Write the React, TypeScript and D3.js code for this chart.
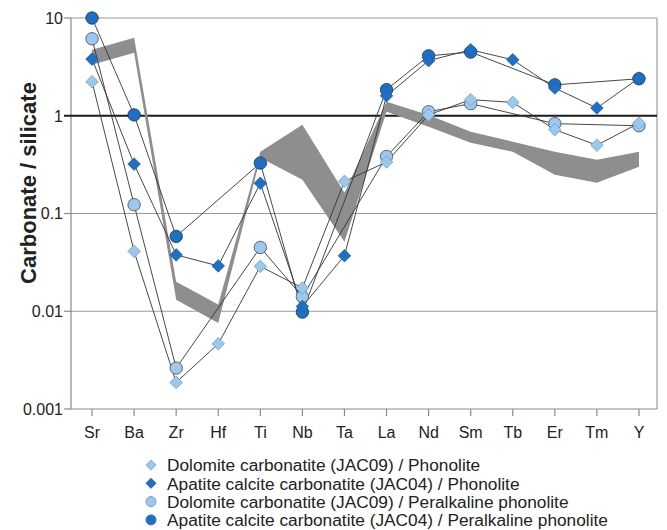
import React from 'react';
import * as d3 from 'd3';

// element order along the x axis
const elements = ['Sr', 'Ba', 'Zr', 'Hf', 'Ti', 'Nb', 'Ta', 'La', 'Nd', 'Sm', 'Tb', 'Er', 'Tm', 'Y'];

// carbonate / silicate ratios (null = not measured)
const dolPhon = [2.23, 0.041, 0.00187, 0.00465, 0.0288, 0.0173, 0.213, 0.336, 1.02, 1.46, 1.37, 0.72, 0.5, 0.84];
const apPhon = [3.8, 0.32, 0.0377, 0.0291, 0.204, 0.0112, 0.037, 1.6, 3.66, 4.73, 3.74, 1.92, 1.2, 2.43];
const dolPer = [6.13, 0.123, 0.00262, null, 0.0449, 0.0141, null, 0.383, 1.1, 1.33, null, 0.83, null, 0.79];
const apPer = [10, 1.02, 0.0583, null, 0.328, 0.0098, null, 1.85, 4.1, 4.48, null, 2.07, null, 2.39];

// grey field (upper / lower envelope)
const bandUpper = [4.73, 6.28, 0.02, 0.0117, 0.428, 0.81, 0.163, 1.39, 1.02, 0.686, 0.542, 0.428, 0.355, 0.428];
const bandLower = [3.32, 4.41, 0.0131, 0.0076, 0.372, 0.221, 0.0514, 1.1, 0.772, 0.529, 0.428, 0.249, 0.206, 0.301];

const yTicks = [10, 1, 0.1, 0.01, 0.001];
const yTickLabels = ['10', '1', '0.1', '0.01', '0.001'];

const legendLabels = [
    'Dolomite carbonatite (JAC09) / Phonolite',
    'Apatite calcite carbonatite (JAC04) / Phonolite',
    'Dolomite carbonatite (JAC09) / Peralkaline phonolite',
    'Apatite calcite carbonatite (JAC04) / Peralkaline phonolite',
];

const LIGHT = '#9dc8ee';
const DARK = '#1f70c4';
const font = '"Liberation Sans", Arial, sans-serif';

type Series = { values: (number | null)[]; fill: string; shape: 'diamond' | 'circle'; stroke: string };

const series: Series[] = [
    {values: dolPer, fill: LIGHT, shape: 'circle', stroke: '#4d5a68'},
    {values: apPer, fill: DARK, shape: 'circle', stroke: '#1d3d66'},
    {values: dolPhon, fill: LIGHT, shape: 'diamond', stroke: '#6f96bf'},
    {values: apPhon, fill: DARK, shape: 'diamond', stroke: '#1a5aa0'},
];

const legendSeries = [series[2], series[3], series[0], series[1]];

const Marker: React.FC<{ x: number; y: number; s: Series; r?: number }> = ({x, y, s, r = 6.2}) => {
    if (s.shape === 'circle') {
        return <circle cx={x} cy={y} r={r} fill={s.fill} stroke={s.stroke} strokeWidth={0.9}/>;
    }
    const d = r + 0.1;
    return <path d={`M${x},${y - d}L${x + d},${y}L${x},${y + d}L${x - d},${y}Z`} fill={s.fill} stroke={s.stroke}
                 strokeWidth={0.7}/>;
};

export default function App() {
    const width = 667;
    const height = 530;
    const left = 71, right = 657, top = 18, bottom = 409;

    const x = d3.scalePoint<string>().domain(elements).range([71, 660]).padding(0.5);
    const y = d3.scaleLog().domain([0.001, 10]).range([bottom, top]);

    const line = d3.line<[string, number | null]>()
        .defined(d => d[1] !== null)
        .x(d => x(d[0])!)
        .y(d => y(d[1] as number));

    const area = d3.area<number>()
        .x((_, i) => x(elements[i])!)
        .y0((_, i) => y(bandLower[i]))
        .y1((_, i) => y(bandUpper[i]));

    return (
        <svg width={width} height={height} style={{position: 'absolute', left: 0, top: 0}} fontFamily={font}>
            <rect width={width} height={height} fill="#fff"/>
            {/* grid */}
            {yTicks.filter(t => t !== 1 && t !== 0.001).map(t => (
                <line key={t} x1={left} x2={right} y1={y(t)} y2={y(t)} stroke="#9a9a9a" strokeWidth={1.2}/>
            ))}
            <line x1={right} x2={right} y1={top} y2={bottom} stroke="#9a9a9a" strokeWidth={1.2}/>
            <line x1={left} x2={left} y1={top} y2={bottom} stroke="#8a8a8a" strokeWidth={1.2}/>
            <line x1={left} x2={right} y1={bottom} y2={bottom} stroke="#8a8a8a" strokeWidth={1.2}/>
            <line x1={left} x2={right} y1={y(1)} y2={y(1)} stroke="#1a1a1a" strokeWidth={2}/>

            {/* y ticks */}
            {yTicks.map((t, i) => (
                <g key={t}>
                    <line x1={left - 7} x2={left} y1={y(t)} y2={y(t)} stroke={t === 1 ? '#1a1a1a' : '#8a8a8a'}
                          strokeWidth={t === 1 ? 2 : 1.2}/>
                    <text x={left - 8} y={y(t)} dy="0.36em" textAnchor="end" fontSize={16}
                          fill="#222">{yTickLabels[i]}</text>
                </g>
            ))}
            {/* x ticks */}
            {elements.map(e => (
                <g key={e}>
                    <line x1={x(e)} x2={x(e)} y1={bottom} y2={bottom + 7} stroke="#8a8a8a" strokeWidth={1.2}/>
                    <text x={x(e)} y={438} textAnchor="middle" fontSize={16} fill="#222">{e}</text>
                </g>
            ))}

            <text transform={`translate(36, 183) rotate(-90)`} textAnchor="middle"
                  fontSize={22} fontWeight="bold" fill="#222">Carbonate / silicate</text>

            {/* grey field */}
            <path d={area(bandUpper)!} fill="#8e8e90"/>

            {/* series lines */}
            {series.map((s, i) => (
                <path key={i} d={line(elements.map((e, j) => [e, s.values[j]] as [string, number | null]).filter(d => d[1] !== null))!}
                      fill="none" stroke="#333" strokeWidth={0.9}/>
            ))}
            {/* markers */}
            {series.map((s, i) => (
                <g key={i}>
                    {elements.map((e, j) => s.values[j] === null ? null : (
                        <Marker key={e} x={x(e)!} y={y(s.values[j] as number)} s={s}/>
                    ))}
                </g>
            ))}

            {/* legend */}
            {legendLabels.map((l, i) => (
                <g key={l}>
                    <Marker x={151} y={465 + i * 18.3} r={5}
                            s={{...legendSeries[i], stroke: legendSeries[i].shape === 'circle' ? (legendSeries[i].fill === LIGHT ? '#6f96bf' : DARK) : legendSeries[i].stroke}}/>
                    <text x={167} y={465 + i * 18.3} dy="0.36em" fontSize={17.3} fill="#222">{l}</text>
                </g>
            ))}
        </svg>
    );
}
